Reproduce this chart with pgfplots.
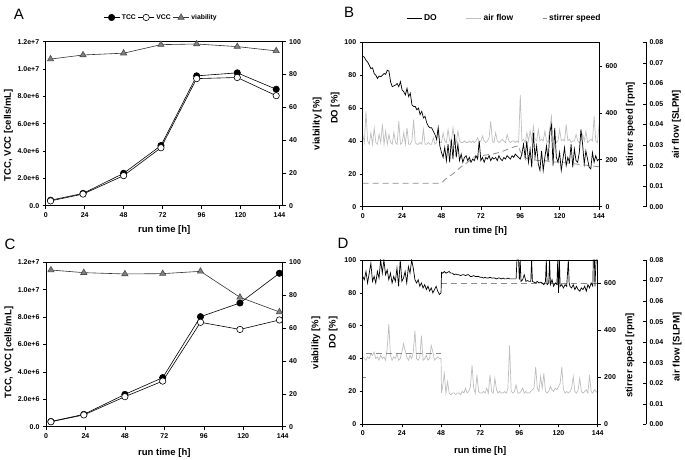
\documentclass[border=0pt]{standalone}
\usepackage{fontspec}
\setmainfont{Liberation Sans}
\usepackage{pgfplots}
\usepackage{pgfplotstable}
\pgfplotsset{compat=1.18}
\definecolor{airgray}{RGB}{190,190,190}
\definecolor{stirgray}{RGB}{140,140,140}
\definecolor{trigray}{RGB}{128,128,128}
\pgfplotsset{
  every axis/.append style={
    scale only axis,
    tick label style={font=\fontsize{7}{8}\selectfont\bfseries},
    label style={font=\fontsize{9.5}{11}\selectfont\bfseries},
    tick align=outside, major tick length=3pt,
    /pgf/number format/assume math mode=true,
    scaled ticks=false,
    axis line style={line width=0.5pt},
    tick style={line width=0.5pt, black},
  },
  shortleg/.style={legend image code/.code={\draw[##1] (10pt,0pt)--(14pt,0pt);}},
  lineleg/.style={legend image code/.code={\draw[##1] (0pt,0pt)--(15pt,0pt);}},
  markleg/.style={legend image code/.code={\draw[mark repeat=2,mark phase=2,##1] plot coordinates {(0pt,0pt)(8pt,0pt)(16pt,0pt)};}},
  tccst/.style={black, line width=0.6pt, mark=*, mark size=3.2pt, mark options={fill=black, solid}},
  vccst/.style={black, line width=0.6pt, mark=*, mark size=3.2pt, mark options={fill=white, solid}},
  viast/.style={black!80, line width=0.6pt, mark=triangle*, mark size=3.6pt, mark options={fill=trigray, draw=black!70, solid}},
  dost/.style={black, line width=0.7pt},
  airst/.style={airgray, line width=0.7pt},
  stirst/.style={stirgray, line width=0.8pt, dash pattern=on 6pt off 4pt},
}

% ---------------- Panel A ----------------
\pgfplotstableread{
t tcc vcc via
3 0.40e6 0.35e6 89.4
23 0.90e6 0.85e6 91.9
48 2.37e6 2.20e6 93.0
71 4.40e6 4.24e6 98.2
93 9.50e6 9.30e6 98.6
118 9.72e6 9.38e6 97.0
142 8.52e6 8.05e6 94.4
}\tabA
% ---------------- Panel C ----------------
\pgfplotstableread{
t tcc vcc via
3 0.38e6 0.36e6 95.3
23 0.90e6 0.86e6 93.7
48 2.36e6 2.19e6 92.9
71 3.58e6 3.33e6 93.1
94 8.03e6 7.62e6 94.5
118 9.03e6 7.10e6 78.7
142 11.20e6 7.79e6 69.8
}\tabC

% ---------------- Panel B ----------------
\pgfplotstableread{
t v
0 91.5
1 91
2 89
3 88
4 86
5 84
6 84.5
7 81
8 80
9 78
10 79.5
11 79
12 80
13 81
14 80.5
15 83
16 82.5
17 76
18 73
19 73.5
20 74
21 75
22 73
23 76
24 71
25 70
26 68
27 72
28 67
29 69
30 62
31 61
32 61
33 59
34 60
35 56
36 58
37 54
38 55
39 51
40 49
41 48
42 48
43 46
44 44
45 41
46 48
47 37
48 33
49 30
50 36
51 28
52 38
53 27
54 41
55 29
56 44
57 30
58 38
59 28
60 32
61 27
62 30
63 31
64 28
65 30
66 27
67 29
68 28
69 31
70 29
71 40
72 28
73 30
74 27
75 30
76 29
77 31
78 28
79 30
80 29
81 30
82 28
83 31
84 29
85 28
86 30
87 29
88 31
89 30
90 29
91 31
92 30
93 32
94 31
95 30
96 29
97 32
98 38
99 30
100 40
101 27
102 35
103 24
104 45
105 30
106 37
107 26
108 22
109 34
110 22
111 30
112 37
113 28
114 45
115 50
116 25
117 48
118 30
119 27
120 33
121 22
122 29
123 36
124 25
125 30
126 27
127 38
128 24
129 35
130 28
131 27
132 33
133 47
134 38
135 26
136 34
137 29
138 24
139 23
140 33
141 27
142 31
143 28
144 29
}\BDO

\pgfplotstableread{
t v
0 0.0352
1 0.0312
2 0.0464
3 0.0320
4 0.0304
5 0.0360
6 0.0304
7 0.0384
8 0.0312
9 0.0304
10 0.0352
11 0.0312
12 0.0400
13 0.0304
14 0.0368
15 0.0304
16 0.0352
17 0.0312
18 0.0304
19 0.0360
20 0.0312
21 0.0304
22 0.0416
23 0.0304
24 0.0312
25 0.0360
26 0.0304
27 0.0384
28 0.0304
29 0.0304
30 0.0320
31 0.0424
32 0.0312
33 0.0304
34 0.0304
35 0.0312
36 0.0304
37 0.0376
38 0.0304
39 0.0304
40 0.0312
41 0.0304
42 0.0304
43 0.0336
44 0.0304
45 0.0312
46 0.0384
47 0.0312
48 0.0312
49 0.0360
50 0.0320
51 0.0312
52 0.0376
53 0.0320
54 0.0312
55 0.0384
56 0.0320
57 0.0312
58 0.0368
59 0.0320
60 0.0312
61 0.0312
62 0.0320
63 0.0312
64 0.0312
65 0.0320
66 0.0312
67 0.0320
68 0.0312
69 0.0320
70 0.0336
71 0.0312
72 0.0320
73 0.0344
74 0.0320
75 0.0312
76 0.0320
77 0.0336
78 0.0416
79 0.0320
80 0.0312
81 0.0360
82 0.0320
83 0.0312
84 0.0320
85 0.0328
86 0.0320
87 0.0312
88 0.0352
89 0.0320
90 0.0312
91 0.0320
92 0.0320
93 0.0312
94 0.0320
95 0.0312
96 0.0544
97 0.0320
98 0.0328
99 0.0312
100 0.0360
101 0.0320
102 0.0368
103 0.0320
104 0.0392
105 0.0328
106 0.0320
107 0.0376
108 0.0320
109 0.0328
110 0.0320
111 0.0368
112 0.0320
113 0.0312
114 0.0384
115 0.0440
116 0.0320
117 0.0336
118 0.0312
119 0.0320
120 0.0376
121 0.0320
122 0.0328
123 0.0320
124 0.0400
125 0.0320
126 0.0328
127 0.0312
128 0.0320
129 0.0320
130 0.0352
131 0.0320
132 0.0312
133 0.0320
134 0.0352
135 0.0320
136 0.0368
137 0.0312
138 0.0320
139 0.0328
140 0.0320
141 0.0440
142 0.0320
143 0.0312
144 0.0400
}\BAIR

\pgfplotstableread{
t v
0 100
48 100
50 115
55 140
60 170
65 195
67 210
70 215
75 220
80 225
85 235
90 250
95 260
96 235
98 215
100 205
104 200
108 196
112 195
116 190
120 190
126 185
132 180
138 175
144 170
}\BSTIR

% ---------------- Panel D ----------------
\pgfplotstableread{
t v
0 90
1 88
2 93
3 86
4 92
5 98
6 87
7 90
8 86
9 93
10 89
11 100
12 92
13 100
14 91
15 94
16 88
17 92
18 86
19 90
20 87
21 95
22 84
23 100
24 87
25 89
26 93
27 86
28 96
29 92
30 100
31 95
32 88
33 86
34 88
35 84
36 86
37 83
38 85
39 82
40 84
41 81
42 83
43 80
44 82
45 84
46 81
47 79
48 80
48.3 92.5
49 92
50 93
51 92
52 92.5
53 93
54 92
55 92
56 91
57 91.5
58 91
59 91
60 90.5
61 91
62 91
63 90.5
64 91
65 91
66 90
67 90
68 90.5
69 90
70 90
71 90
72 89.5
73 89.5
74 89
75 89.5
76 89
77 89
78 89.5
79 89
80 89
81 89
82 88.5
83 89
84 89
85 88.5
86 89
87 88.5
88 88.5
89 89
90 88.5
91 88.5
92 88.5
93 88.5
94 88.5
94.5 100
95.5 100
96 88
96.5 100
97 87
98 88
99 91
100 87
101 87.5
102 87
103 87
103.5 100
104 87
105 86.5
106 86
107 87
108 86
109 86.5
110 86
111 85
112 87
112.5 100
113 85
114 86
114.5 100
115 85
116 88
117 84
118 86
119 85
119.5 100
120 80
120.5 100
121 84
122 85
123 83
124 85
125 84
126 100
126.5 86
127 84
128 83
129 85
130 82
131 84
132 82
133 81
134 83
135 82
136 84
137 81
138 85
139 83
140 86
141 84
141.3 100
142 100
142.3 84
143 100
144 100
}\DDO

\pgfplotstableread{
t v
0 0.0328
1 0.0320
2 0.0312
3 0.0328
4 0.0320
5 0.0344
6 0.0336
7 0.0352
8 0.0320
9 0.0328
10 0.0312
11 0.0336
12 0.0320
13 0.0328
14 0.0312
15 0.0368
16 0.0488
17 0.0336
18 0.0312
19 0.0328
20 0.0320
21 0.0344
22 0.0312
23 0.0320
24 0.0352
25 0.0392
26 0.0360
27 0.0328
28 0.0312
29 0.0336
30 0.0320
31 0.0352
32 0.0456
33 0.0320
34 0.0312
35 0.0328
36 0.0432
37 0.0312
38 0.0320
39 0.0336
40 0.0312
41 0.0320
42 0.0384
43 0.0352
44 0.0312
45 0.0320
46 0.0328
47 0.0320
48 0.0320
48.3 0.0152
49 0.0184
50 0.0248
51 0.0152
52 0.0208
53 0.0152
54 0.0144
55 0.0152
56 0.0152
57 0.0144
58 0.0152
59 0.0152
60 0.0144
61 0.0160
62 0.0152
63 0.0176
64 0.0152
65 0.0160
66 0.0184
67 0.0288
68 0.0176
69 0.0152
70 0.0240
71 0.0160
72 0.0152
73 0.0152
74 0.0160
75 0.0152
76 0.0176
77 0.0152
78 0.0240
79 0.0160
80 0.0152
81 0.0224
82 0.0168
83 0.0152
84 0.0160
85 0.0152
86 0.0152
87 0.0160
88 0.0152
89 0.0176
90 0.0384
91 0.0160
92 0.0152
93 0.0160
94 0.0192
95 0.0152
96 0.0152
97 0.0160
98 0.0176
99 0.0152
100 0.0160
101 0.0152
102 0.0152
103 0.0160
104 0.0168
105 0.0176
106 0.0280
107 0.0176
108 0.0160
109 0.0232
110 0.0176
111 0.0248
112 0.0160
113 0.0152
114 0.0160
115 0.0184
116 0.0168
117 0.0160
118 0.0176
119 0.0168
120 0.0184
121 0.0200
122 0.0280
123 0.0168
124 0.0152
125 0.0160
126 0.0152
127 0.0160
128 0.0176
129 0.0232
130 0.0160
131 0.0152
132 0.0168
133 0.0224
134 0.0160
135 0.0152
136 0.0160
137 0.0168
138 0.0152
139 0.0240
140 0.0160
141 0.0152
142 0.0168
143 0.0160
144 0.0152
}\DAIR

\pgfplotstableread{
t v
0 200
2 200
2.01 nan
2 300
48 300
48.01 nan
48 600
144 600
}\DSTIR

\begin{document}
\begin{tikzpicture}
\useasboundingbox (0,0) rectangle (685pt,460pt);

% panel letters
\node[font=\fontsize{15}{16}\selectfont, anchor=center] at (19pt,446pt) {A};
\node[font=\fontsize{15}{16}\selectfont, anchor=center] at (349pt,448pt) {B};
\node[font=\fontsize{15}{16}\selectfont, anchor=center] at (10pt,216pt) {C};
\node[font=\fontsize{15}{16}\selectfont, anchor=center] at (343pt,217pt) {D};

% ================= A =================
\begin{axis}[at={(45.7pt,254.3pt)}, anchor=south west, width=237pt, height=164pt,
  xmin=0, xmax=146, ymin=0, ymax=1.2e7,
  xtick={0,24,...,144},
  ytick={0,2e6,4e6,6e6,8e6,1e7,1.2e7},
  yticklabels={0.0,2.0e+6,4.0e+6,6.0e+6,8.0e+6,1.0e+7,1.2e+7},
  tick pos=left,
  xlabel={run time [h]}, ylabel={TCC, VCC [cells/mL]},
  xlabel style={at={(axis description cs:0.5,-0.15)}, anchor=center},
  ylabel style={at={(axis description cs:-0.157,0.43)}, anchor=center}]
\addplot[tccst] table[x=t,y=tcc] {\tabA};
\addplot[vccst] table[x=t,y=vcc] {\tabA};
\end{axis}
\begin{axis}[at={(45.7pt,254.3pt)}, anchor=south west, width=237pt, height=164pt,
  xmin=0, xmax=146, ymin=0, ymax=100,
  axis y line*=right, axis x line=none,
  ytick={0,20,...,100},
  ylabel={viability [\%]},
  ylabel style={at={(axis description cs:1.145,0.5)}, anchor=center},
  legend style={draw=none, fill=none, font=\fontsize{6.8}{7.5}\selectfont\bfseries,
    at={(axis description cs:0.4865,1.1476)}, anchor=center,
    /tikz/every even column/.append style={column sep=0pt}},
  legend columns=3, markleg]
\addlegendimage{tccst}\addlegendentry{TCC}
\addlegendimage{vccst}\addlegendentry{VCC}
\addplot[viast] table[x=t,y=via] {\tabA};
\addlegendentry{viability}
\end{axis}

% ================= C =================
\begin{axis}[at={(46pt,33.3pt)}, anchor=south west, width=236.7pt, height=164.4pt,
  xmin=0, xmax=144, ymin=0, ymax=1.2e7,
  xtick={0,24,...,144},
  ytick={0,2e6,4e6,6e6,8e6,1e7,1.2e7},
  yticklabels={0.0,2.0e+6,4.0e+6,6.0e+6,8.0e+6,1.0e+7,1.2e+7},
  tick pos=left,
  xlabel={run time [h]}, ylabel={TCC, VCC [cells/mL]},
  xlabel style={at={(axis description cs:0.5,-0.158)}, anchor=center},
  ylabel style={at={(axis description cs:-0.157,0.45)}, anchor=center}]
\addplot[tccst] table[x=t,y=tcc] {\tabC};
\addplot[vccst] table[x=t,y=vcc] {\tabC};
\end{axis}
\begin{axis}[at={(46pt,33.3pt)}, anchor=south west, width=236.7pt, height=164.4pt,
  xmin=0, xmax=144, ymin=0, ymax=100,
  axis y line*=right, axis x line=none,
  ytick={0,20,...,100},
  ylabel={viability [\%]},
  ylabel style={at={(axis description cs:1.14,0.51)}, anchor=center}]
\addplot[viast] table[x=t,y=via] {\tabC};
\end{axis}

% ================= B =================
\begin{axis}[at={(362.7pt,253.3pt)}, anchor=south west, width=283.3pt, height=164.4pt,
  xmin=0, xmax=172.6, ymin=0, ymax=0.08,
  axis y line*=right, axis x line=none, tick align=inside,
  ytick={0,0.01,0.02,0.03,0.04,0.05,0.06,0.07,0.08},
  yticklabel style={/pgf/number format/.cd, fixed, fixed zerofill, precision=2},
  ylabel={air flow [SLPM]},
  ylabel style={at={(axis description cs:1.107,0.5)}, anchor=center}]
\addplot[airst] table[x=t,y=v] {\BAIR};
\end{axis}
\begin{axis}[at={(362.7pt,253.3pt)}, anchor=south west, width=236.3pt, height=164.4pt,
  xmin=0, xmax=144, ymin=0, ymax=700,
  axis y line*=right, axis x line=none,
  ytick={0,200,400,600},
  ylabel={stirrer speed [rpm]},
  ylabel style={at={(axis description cs:1.133,0.5)}, anchor=center}]
\addplot[stirst] table[x=t,y=v] {\BSTIR};
\end{axis}
\begin{axis}[at={(362.7pt,253.3pt)}, anchor=south west, width=236.3pt, height=164.4pt,
  xmin=0, xmax=144, ymin=0, ymax=100,
  xtick={0,24,...,144}, ytick={0,20,...,100},
  tick pos=left,
  xlabel={run time [h]}, ylabel={DO [\%]},
  xlabel style={at={(axis description cs:0.5,-0.15)}, anchor=center},
  ylabel style={at={(axis description cs:-0.117,0.6)}, anchor=center},
  legend style={draw=none, fill=none, font=\fontsize{8.5}{9.5}\selectfont\bfseries,
    at={(axis description cs:0.6,1.148)}, anchor=center,
    /tikz/every even column/.append style={column sep=27pt}},
  legend columns=3]
\addplot[dost, lineleg] table[x=t,y=v] {\BDO};
\addlegendentry{DO}
\addlegendimage{airst, lineleg}\addlegendentry{air flow}
\addlegendimage{stirst, shortleg}\addlegendentry{stirrer speed}
\end{axis}

% ================= D =================
\begin{axis}[at={(362.7pt,35.7pt)}, anchor=south west, width=283.3pt, height=164.3pt,
  xmin=0, xmax=173.6, ymin=0, ymax=0.08,
  axis y line*=right, axis x line=none, tick align=inside,
  ytick={0,0.01,0.02,0.03,0.04,0.05,0.06,0.07,0.08},
  yticklabel style={/pgf/number format/.cd, fixed, fixed zerofill, precision=2},
  ylabel={air flow [SLPM]},
  ylabel style={at={(axis description cs:1.11,0.47)}, anchor=center}]
\addplot[airst] table[x=t,y=v] {\DAIR};
\end{axis}
\begin{axis}[at={(362.7pt,35.7pt)}, anchor=south west, width=235pt, height=164.3pt,
  xmin=0, xmax=144, ymin=0, ymax=700,
  axis y line*=right, axis x line=none,
  ytick={0,200,400,600},
  ylabel={stirrer speed [rpm]},
  ylabel style={at={(axis description cs:1.137,0.42)}, anchor=center}]
\addplot[stirst, unbounded coords=jump] table[x=t,y=v] {\DSTIR};
\end{axis}
\begin{axis}[at={(362.7pt,35.7pt)}, anchor=south west, width=235pt, height=164.3pt,
  xmin=0, xmax=144, ymin=0, ymax=100,
  xtick={0,24,...,144}, ytick={0,20,...,100},
  tick pos=left,
  xlabel={run time [h]}, ylabel={DO [\%]},
  xlabel style={at={(axis description cs:0.5,-0.165)}, anchor=center},
  ylabel style={at={(axis description cs:-0.126,0.56)}, anchor=center}]
\addplot[dost] table[x=t,y=v] {\DDO};
\end{axis}
\end{tikzpicture}
\end{document}
